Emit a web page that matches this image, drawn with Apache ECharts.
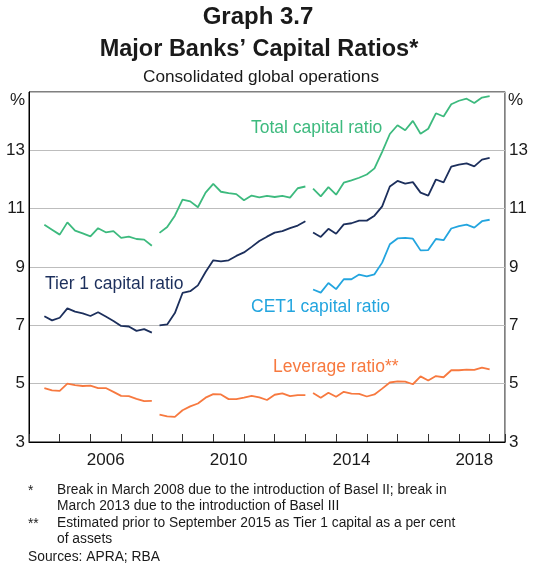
<!DOCTYPE html>
<html>
<head>
<meta charset="utf-8">
<script src="https://cdn.jsdelivr.net/npm/echarts@6/dist/echarts.min.js"></script>
<style>
html,body{margin:0;padding:0;background:#fff;}
#chart{width:534px;height:569px;}
</style>
</head>
<body>
<div id="chart"></div>
<script>
// ---- Data (quarterly, plotted at quarter end) ----
// Segment starts (year, quarter) — breaks in March 2008 (Basel II) and March 2013 (Basel III)
const seg1Start = [2004, 2];   // Jun 2004 .. Dec 2007
const seg2Start = [2008, 1];   // Mar 2008 .. Dec 2012
const seg3Start = [2013, 1];   // Mar 2013 .. Dec 2018

const totalSeg1 = [10.45, 10.28, 10.11, 10.53, 10.25, 10.15, 10.05, 10.33, 10.19, 10.23, 10.00, 10.04, 9.96, 9.94, 9.73];
const totalSeg2 = [10.17, 10.37, 10.76, 11.31, 11.25, 11.05, 11.55, 11.85, 11.58, 11.53, 11.50, 11.29, 11.45, 11.39, 11.44, 11.40, 11.44, 11.38, 11.70, 11.76];
const totalSeg3 = [11.69, 11.42, 11.74, 11.48, 11.89, 11.97, 12.06, 12.17, 12.38, 12.95, 13.56, 13.86, 13.69, 14.01, 13.57, 13.74, 14.27, 14.16, 14.58, 14.70, 14.77, 14.62, 14.81, 14.86];

const tier1Seg1 = [7.31, 7.17, 7.26, 7.58, 7.47, 7.41, 7.32, 7.45, 7.30, 7.15, 6.98, 6.96, 6.81, 6.87, 6.75];
const tier1Seg2 = [7.00, 7.03, 7.42, 8.11, 8.17, 8.37, 8.83, 9.23, 9.19, 9.23, 9.38, 9.50, 9.69, 9.89, 10.04, 10.18, 10.23, 10.33, 10.42, 10.57];
const tier1Seg3 = [10.18, 10.03, 10.31, 10.14, 10.46, 10.50, 10.59, 10.59, 10.76, 11.08, 11.76, 11.95, 11.86, 11.91, 11.55, 11.45, 12.00, 11.90, 12.44, 12.51, 12.55, 12.45, 12.68, 12.74];

const cet1Seg3 = [8.23, 8.12, 8.45, 8.24, 8.58, 8.58, 8.74, 8.68, 8.75, 9.15, 9.78, 9.98, 10.00, 9.97, 9.57, 9.58, 9.96, 9.92, 10.32, 10.40, 10.45, 10.35, 10.57, 10.62];

const levSeg1 = [4.85, 4.77, 4.75, 5.00, 4.95, 4.92, 4.93, 4.85, 4.85, 4.72, 4.58, 4.57, 4.48, 4.40, 4.41];
const levSeg2 = [3.94, 3.88, 3.86, 4.09, 4.22, 4.32, 4.52, 4.64, 4.63, 4.47, 4.47, 4.52, 4.58, 4.53, 4.44, 4.62, 4.67, 4.57, 4.61, 4.61];
const levSeg3 = [4.68, 4.52, 4.69, 4.55, 4.72, 4.66, 4.65, 4.56, 4.63, 4.83, 5.04, 5.08, 5.07, 4.98, 5.25, 5.11, 5.26, 5.22, 5.46, 5.46, 5.48, 5.47, 5.55, 5.49];

const yTicks = [3, 5, 7, 9, 11, 13];
const yearLabels = [2006, 2010, 2014, 2018];

// ---- Helpers ----
function quarterEnd(start, i) {
  const q = start[1] + i;
  return start[0] + q / 4;
}
function pairs(start, vals) {
  return vals.map((v, i) => [quarterEnd(start, i), v]);
}

const C_TOTAL = '#3dba7e';
const C_TIER1 = '#1c2f5c';
const C_CET1 = '#23a5df';
const C_LEV = '#f7793f';
const FONT = '"Liberation Sans", Arial, sans-serif';

function line(color, start, vals) {
  return {
    type: 'line', xAxisIndex: 0, yAxisIndex: 0,
    data: pairs(start, vals), showSymbol: false, symbol: 'none',
    lineStyle: { color: color, width: 1.8 }, animation: false, z: 3
  };
}

const chart = echarts.init(document.getElementById('chart'), null, { renderer: 'canvas' });

const gridBox = { left: 29, right: 29, top: 92, bottom: 127 };

function txt(text, x, y, opts) {
  return {
    type: 'text', x: x, y: y, silent: true,
    style: Object.assign({
      text: text, fill: '#1a1a1a', fontFamily: FONT, fontSize: 17,
      textAlign: 'left', textVerticalAlign: 'middle'
    }, opts || {})
  };
}

const option = {
  animation: false,
  backgroundColor: '#fff',
  grid: [
    Object.assign({ show: true, borderColor: '#000', borderWidth: 1, backgroundColor: 'transparent' }, gridBox),
    Object.assign({ show: false }, gridBox)
  ],
  xAxis: [
    {
      type: 'value', gridIndex: 0, min: 2004, max: 2019.5, interval: 1,
      axisLine: { show: true, lineStyle: { color: '#000', width: 1 } },
      axisTick: { show: true, inside: true, length: 8, lineStyle: { color: '#333', width: 1 } },
      axisLabel: { show: false },
      splitLine: { show: false }
    },
    {
      type: 'value', gridIndex: 1, min: 2004, max: 2019.5, interval: 0.5,
      axisLine: { show: false }, axisTick: { show: false }, splitLine: { show: false },
      axisLabel: {
        show: true, margin: 10, color: '#1a1a1a', fontFamily: FONT, fontSize: 17,
        showMinLabel: false, showMaxLabel: false,
        formatter: function (v) {
          const y = Math.round((v - 0.5) * 100) / 100;
          return yearLabels.indexOf(y) >= 0 && Math.abs(v - y - 0.5) < 1e-6 ? String(y) : '';
        }
      }
    }
  ],
  yAxis: [
    {
      type: 'value', gridIndex: 0, position: 'left', min: 3, max: 15, interval: 2,
      axisLine: { show: true, lineStyle: { color: '#000', width: 1 } },
      axisTick: { show: false },
      axisLabel: {
        margin: 4, color: '#1a1a1a', fontFamily: FONT, fontSize: 17,
        formatter: v => (yTicks.indexOf(v) >= 0 ? String(v) : '')
      },
      splitLine: { show: true, lineStyle: { color: '#bdbdbd', width: 1 } }
    },
    {
      type: 'value', gridIndex: 0, position: 'right', min: 3, max: 15, interval: 2,
      axisLine: { show: true, lineStyle: { color: '#a6a6a6', width: 1 } },
      axisTick: { show: false },
      axisLabel: {
        margin: 4, color: '#1a1a1a', fontFamily: FONT, fontSize: 17,
        formatter: v => (yTicks.indexOf(v) >= 0 ? String(v) : '')
      },
      splitLine: { show: false }
    },
    {
      type: 'value', gridIndex: 1, min: 3, max: 15, show: false
    }
  ],
  series: [
    line(C_TOTAL, seg1Start, totalSeg1),
    line(C_TOTAL, seg2Start, totalSeg2),
    line(C_TOTAL, seg3Start, totalSeg3),
    line(C_TIER1, seg1Start, tier1Seg1),
    line(C_TIER1, seg2Start, tier1Seg2),
    line(C_TIER1, seg3Start, tier1Seg3),
    line(C_CET1, seg3Start, cet1Seg3),
    line(C_LEV, seg1Start, levSeg1),
    line(C_LEV, seg2Start, levSeg2),
    line(C_LEV, seg3Start, levSeg3)
  ],
  graphic: [
    txt('Graph 3.7', 258, 17, { textAlign: 'center', fontSize: 24, fontWeight: 'bold' }),
    txt('Major Banks\u2019 Capital Ratios*', 259, 50, { textAlign: 'center', fontSize: 23.5, fontWeight: 'bold' }),
    txt('Consolidated global operations', 261, 77, { textAlign: 'center', fontSize: 17.2 }),
    txt('%', 25, 100, { textAlign: 'right' }),
    txt('%', 508, 100, { textAlign: 'left' }),
    txt('Total capital ratio', 251, 128, { fill: C_TOTAL, fontSize: 17.5 }),
    txt('Tier 1 capital ratio', 45, 284, { fill: C_TIER1, fontSize: 17.5 }),
    txt('CET1 capital ratio', 251, 307, { fill: C_CET1, fontSize: 17.5 }),
    txt('Leverage ratio**', 273, 367, { fill: C_LEV, fontSize: 17.5 }),
    txt('*', 28, 491, { fontSize: 13.8 }),
    txt('Break in March 2008 due to the introduction of Basel II; break in', 57, 490, { fontSize: 13.8 }),
    txt('March 2013 due to the introduction of Basel III', 57, 506, { fontSize: 13.8 }),
    txt('**', 28, 524, { fontSize: 13.8 }),
    txt('Estimated prior to September 2015 as Tier 1 capital as a per cent', 57, 523, { fontSize: 13.8 }),
    txt('of assets', 57, 539, { fontSize: 13.8 }),
    txt('Sources: APRA; RBA', 28, 557, { fontSize: 13.8 })
  ]
};

chart.setOption(option);
</script>
</body>
</html>
